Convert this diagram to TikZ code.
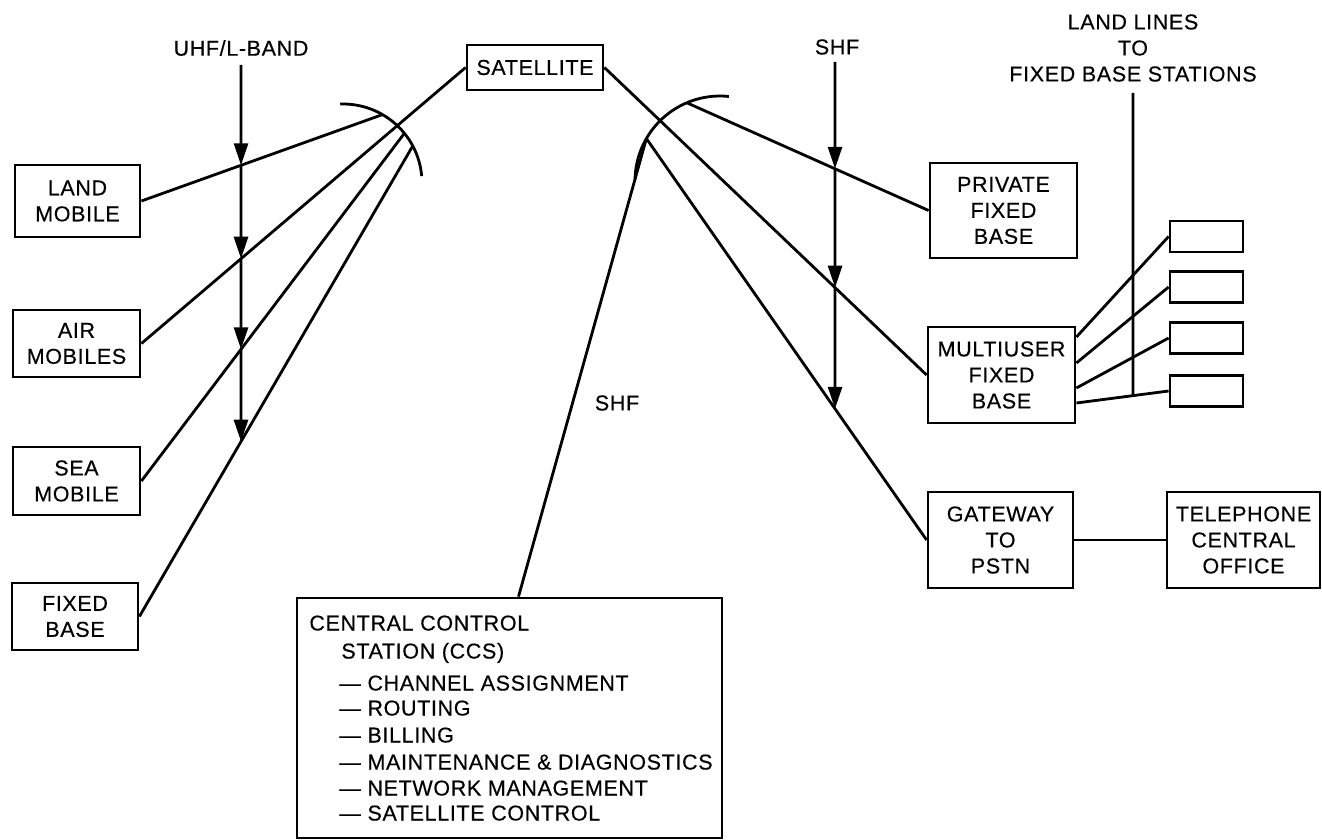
\documentclass[tikz,border=0pt]{standalone}
\usepackage{fontspec}
\setmainfont{Liberation Sans}[LetterSpace=3,FakeBold=0.4]
\usetikzlibrary{arrows.meta,calc}
\begin{document}
\begin{tikzpicture}[x=1pt, y=-1pt, line width=2.8pt,
  every node/.style={font=\fontsize{21.5}{26}\selectfont, inner sep=0pt},
  box/.style={draw, rectangle, align=center},
  small/.style={draw, rectangle, minimum width=73pt, minimum height=31pt},
  tip/.style={-{Triangle[length=22pt,width=14pt]}},
  ccstext/.style={anchor=base west}]
\useasboundingbox (0,0) rectangle (1322,840);

% ---- boxes
\node[box, minimum width=136pt, minimum height=45pt] (sat) at (535,67.5) {SATELLITE};
\node[box, minimum width=125pt, minimum height=72pt] (land) at (77.5,201) {LAND\\MOBILE};
\node[box, minimum width=127pt, minimum height=67pt] (air) at (76.5,343.5) {AIR\\MOBILES};
\node[box, minimum width=127pt, minimum height=68pt] (sea) at (76.5,481) {SEA\\MOBILE};
\node[box, minimum width=126pt, minimum height=67pt] (fixl) at (75,616.5) {FIXED\\BASE};
\node[box, minimum width=147pt, minimum height=95pt] (priv) at (1003.5,210.5) {PRIVATE\\FIXED\\BASE};
\node[box, minimum width=147pt, minimum height=96pt] (multi) at (1001.5,375) {MULTIUSER\\FIXED\\BASE};
\node[small] (mb1) at (1206.5,236.5) {};
\node[small] (mb2) at (1206.5,287) {};
\node[small] (mb3) at (1206.5,338) {};
\node[small] (mb4) at (1206.5,391) {};
\node[box, minimum width=145pt, minimum height=96pt] (gate) at (1000.5,540) {GATEWAY\\TO\\PSTN};
\node[box, minimum width=153pt, minimum height=96pt] (tco) at (1243.5,540) {TELEPHONE\\CENTRAL\\OFFICE};
\node[draw, rectangle, minimum width=425pt, minimum height=240pt] (ccs) at (509.5,718) {};

% ---- CCS text
\node[ccstext] (c1) at (308,630.5) {CENTRAL CONTROL};
\node[ccstext] (c2) at (340,658.5) {STATION (CCS)};
\node[ccstext] (c3) at (338,690.5) {— CHANNEL ASSIGNMENT};
\node[ccstext] (c4) at (338,715.5) {— ROUTING};
\node[ccstext] (c5) at (338,742.5) {— BILLING};
\node[ccstext] (c6) at (338,769.5) {— MAINTENANCE \& DIAGNOSTICS};
\node[ccstext] (c7) at (338,795.5) {— NETWORK MANAGEMENT};
\node[ccstext] (c8) at (338,820.5) {— SATELLITE CONTROL};

% ---- labels
\node (uhf) at (241,48) {UHF/L-BAND};
\node (shfr) at (837,47) {SHF};
\node (shfm) at (617,403) {SHF};
\node[align=center] (ll) at (1133,48) {LAND LINES\\TO\\FIXED BASE STATIONS};

% ---- antenna arcs
\coordinate (lc) at (343,183);
\coordinate (rc) at (720,181);
\draw (lc) ++(-92:79) arc[start angle=-92, end angle=-5, radius=79];
\draw (rc) ++(-84:85) arc[start angle=-84, end angle=-179, radius=85];
\coordinate (aL1) at ($(lc)+(-60:79)$);
\coordinate (aL2) at ($(lc)+(-39:79)$);
\coordinate (aL3) at ($(lc)+(-28:79)$);
\coordinate (aR1) at ($(rc)+(-113:85)$);
\coordinate (aR2) at ($(rc)+(-150:85)$);

% ---- left links
\draw (land.east) -- (aL1);
\draw (sat.west) -- (air.east);
\draw (sea.east) -- (aL2);
\draw (fixl.east) -- (aL3);

% ---- right links
\draw (aR1) -- (priv.west);
\draw (sat.east) -- (multi.west);
\draw (aR2) -- (gate.west);
\coordinate (ccsin) at ($(ccs.north)+(9,0)$);
\draw (aR2) -- (ccsin);
\draw (gate.east) -- (tco.west);

% ---- multiuser to fixed base stations
\coordinate (m1) at ($(multi.east)+(0,-38)$);
\coordinate (m2) at ($(multi.east)+(0,-12)$);
\coordinate (m3) at ($(multi.east)+(0,13)$);
\coordinate (m4) at ($(multi.east)+(0,28)$);
\draw (m1) -- (mb1.west);
\draw (m2) -- (mb2.west);
\draw (m3) -- (mb3.west);
\draw (m4) -- (mb4.west);
\coordinate (llt) at (1133,93);
\coordinate (llb) at (1133,840);
\coordinate (llx) at (intersection of m4--mb4.west and llt--llb);
\draw (llt) -- (llx);

% ---- UHF/L-band arrow
\coordinate (ut) at (241,65);
\coordinate (ub) at (241,840);
\coordinate (u1) at (intersection of land.east--aL1 and ut--ub);
\coordinate (u2) at (intersection of sat.west--air.east and ut--ub);
\coordinate (u3) at (intersection of sea.east--aL2 and ut--ub);
\coordinate (u4) at (intersection of fixl.east--aL3 and ut--ub);
\draw[tip] (ut) -- (u1);
\draw[tip] (u1) -- (u2);
\draw[tip] (u2) -- (u3);
\draw[tip] (u3) -- (u4);

% ---- SHF arrow
\coordinate (st) at (835,62);
\coordinate (sb) at (835,840);
\coordinate (s1) at (intersection of aR1--priv.west and st--sb);
\coordinate (s2) at (intersection of sat.east--multi.west and st--sb);
\coordinate (s3) at (intersection of aR2--gate.west and st--sb);
\draw[tip] (st) -- (s1);
\draw[tip] (s1) -- (s2);
\draw[tip] (s2) -- (s3);
\end{tikzpicture}
\end{document}
